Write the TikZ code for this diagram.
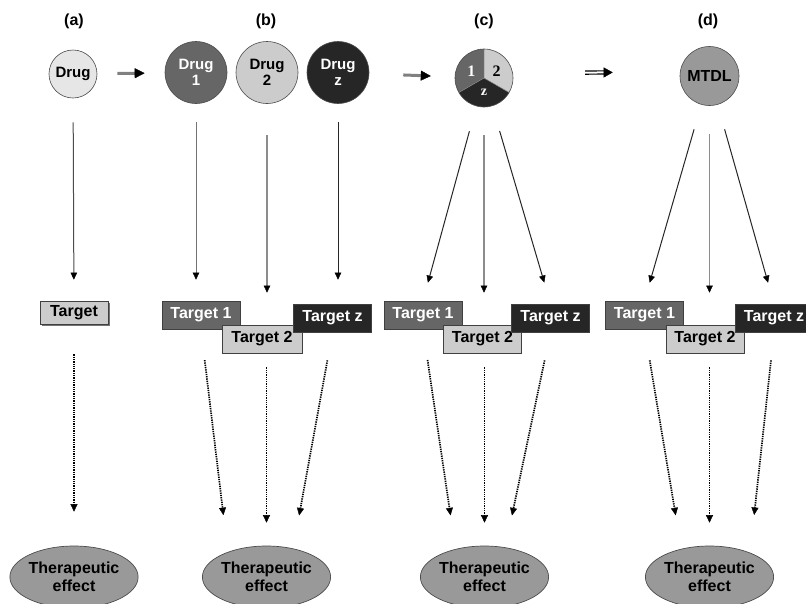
\documentclass[tikz,border=0pt]{standalone}
\usepackage{fontspec}
\setmainfont{Liberation Sans}
\newfontfamily\piefont{Liberation Serif}
\usepackage{tikz}
\usetikzlibrary{arrows.meta,shapes.geometric,shadows}
\definecolor{lightdrug}{HTML}{E6E6E6}
\definecolor{midgray}{HTML}{666666}
\definecolor{palegray}{HTML}{CCCCCC}
\definecolor{darkdrug}{HTML}{262626}
\definecolor{mtdlgray}{HTML}{999999}

\begin{document}
\begin{tikzpicture}[x=1pt,y=-1pt,
  font=\fontsize{16}{18}\selectfont\bfseries,
  drug/.style={circle,draw=black!70,line width=0.6pt,minimum size=62pt,inner sep=0pt,align=center,font=\fontsize{15}{16.5}\selectfont\bfseries},
  target/.style={rectangle,draw=black!75,line width=0.7pt,minimum width=78pt,minimum height=28pt,inner sep=0pt},
  effect/.style={ellipse,draw=black!70,line width=0.7pt,fill=mtdlgray,minimum width=125pt,minimum height=62pt,inner sep=0pt,align=center},
  hit/.style={line width=1pt,-{Triangle[length=7pt,width=6.5pt,line width=0.4pt,color=black,fill=black]}},
  dots/.style={line width=1.7pt,dash pattern=on 1.3pt off 1pt,-{Triangle[length=7.5pt,width=7pt,line width=0.4pt,color=black,fill=black]}},
  nextarrow/.style={draw=black!50,line width=3pt,-{Triangle[length=10pt,width=10pt,line width=0.4pt,color=black,fill=black]}}]
\fill[white] (0,0) rectangle (806,603);
\useasboundingbox (0,0) rectangle (806,603);

\node (labA) at (74,21) {(a)};
\node (labB) at (266,21) {(b)};
\node (labC) at (484,21) {(c)};
\node (labD) at (708,21) {(d)};

\node (drugA) at (73,74) [drug,fill=lightdrug,minimum size=48pt] {Drug};
\node (drug1) at (196,72.5) [drug,fill=midgray,text=white] {Drug\\1};
\node (drug2) at (267,72.5) [drug,fill=palegray] {Drug\\2};
\node (drugz) at (338,72.5) [drug,fill=darkdrug,text=white] {Drug\\z};
\node (pie) at (484,78) [circle,minimum size=58pt,inner sep=0pt] {};
\begin{scope}[shift={(pie.center)},yscale=-1]
\fill[midgray] (0,0) -- (90:29) arc[start angle=90,end angle=210,radius=29] -- cycle;
\fill[palegray] (0,0) -- (-30:29) arc[start angle=-30,end angle=90,radius=29] -- cycle;
\fill[darkdrug] (0,0) -- (210:29) arc[start angle=210,end angle=330,radius=29] -- cycle;
\draw[black!45,line width=0.5pt] (0,0) -- (90:29) (0,0) -- (210:29) (0,0) -- (-30:29);
\draw[black!70,line width=0.6pt] (0,0) circle[radius=29];
\node[white] at (150:14.5) {\piefont\fontsize{16}{16}\selectfont\bfseries 1};
\node[black] at (30:14.5) {\piefont\fontsize{16}{16}\selectfont\bfseries 2};
\node[white] at (270:14.5) {\piefont\fontsize{14}{14}\selectfont\bfseries z};
\end{scope}
\node (mtdl) at (709.5,76) [drug,fill=mtdlgray,minimum size=59pt,font=\fontsize{16}{18}\selectfont\bfseries] {MTDL};

\draw[nextarrow,shorten <=20pt,shorten >=20pt] (drugA) -- (drug1);
\draw[nextarrow,shorten <=34pt,shorten >=24pt] (drugz) -- (pie);
\draw[line width=1.2pt,double distance=2pt,shorten <=72pt,shorten >=67pt,-{Triangle[length=9pt,width=10pt,line width=0.4pt,fill=black]}] ([yshift=5pt]pie.east) -- ([yshift=4pt]mtdl.west);

\node (tgtA) at (74,312.5) [target,fill=palegray,minimum width=68pt,minimum height=23pt,drop shadow={shadow xshift=2pt,shadow yshift=-2pt,fill=black!55,opacity=1}] {Target};
\node (t1b) at (201,315) [target,fill=midgray,text=white] {Target 1};
\node (t2b) at (262,339) [target,fill=palegray,minimum width=80pt] {Target 2};
\node (tzb) at (332.5,318) [target,fill=darkdrug,text=white] {Target z};
\node (t1c) at (423,315) [target,fill=midgray,text=white] {Target 1};
\node (t2c) at (482.5,339) [target,fill=palegray] {Target 2};
\node (tzc) at (550.5,318) [target,fill=darkdrug,text=white] {Target z};
\node (t1d) at (644.5,315) [target,fill=midgray,text=white] {Target 1};
\node (t2d) at (705,339) [target,fill=palegray] {Target 2};
\node (tzd) at (774,318) [target,fill=darkdrug,text=white] {Target z};

\draw[hit,black!70,shorten <=24pt,shorten >=21pt] (drugA) -- (tgtA);
\draw[hit,black!55,shorten <=18pt,shorten >=21pt] (drug1) -- (drug1 |- t1b.north);
\draw[hit,black!45,line width=1.5pt,shorten <=31.5pt,shorten >=32pt] (drug2) -- (drug2 |- t2b.north);
\draw[hit,black!85,shorten <=18.5pt,shorten >=24pt] (drugz) -- (drugz |- tzb.north);
\draw[hit,black!85,shorten <=26pt,shorten >=18.7pt] (pie) -- (t1c.north);
\draw[hit,black!45,line width=1.5pt,shorten <=28pt,shorten >=32pt] (pie) -- (pie |- t2c.north);
\draw[hit,black!85,shorten <=26pt,shorten >=22pt] (pie) -- (tzc.north);
\draw[hit,black!85,shorten <=25.7pt,shorten >=18.7pt] (mtdl) -- (t1d.north);
\draw[hit,black!45,line width=1.5pt,shorten <=28.5pt,shorten >=32pt] (mtdl) -- (mtdl |- t2d.north);
\draw[hit,black!85,shorten <=25.6pt,shorten >=21.8pt] (mtdl) -- (tzd.north);

\node (effA) at (74,577) [effect] {Therapeutic\\effect};
\node (effB) at (266.5,577) [effect] {Therapeutic\\effect};
\node (effC) at (484.5,577) [effect] {Therapeutic\\effect};
\node (effD) at (709.5,577) [effect] {Therapeutic\\effect};

\draw[dots,shorten <=30pt,shorten >=34pt] (tgtA) -- (effA);
\draw[dots,shorten <=31pt,shorten >=37pt] (t1b.south) -- (effB.147);
\draw[dots,shorten <=14pt,shorten >=23pt] (effB |- t2b.south) -- (effB.north);
\draw[dots,shorten <=28.4pt,shorten >=33.5pt] (tzb.south) -- (effB.47);
\draw[dots,shorten <=31pt,shorten >=34pt] (t1c.south) -- (effC.136);
\draw[dots,shorten <=14pt,shorten >=23pt] (effC |- t2c.south) -- (effC.north);
\draw[dots,shorten <=28.6pt,shorten >=32.6pt] (tzc.south) -- (effC.55);
\draw[dots,shorten <=31.4pt,shorten >=34pt] (t1d.south) -- (effD.135);
\draw[dots,shorten <=14pt,shorten >=23pt] (effD |- t2d.south) -- (effD.north);
\draw[dots,shorten <=28.2pt,shorten >=37.9pt] (tzd.south) -- (effD.31);
\end{tikzpicture}
\end{document}
